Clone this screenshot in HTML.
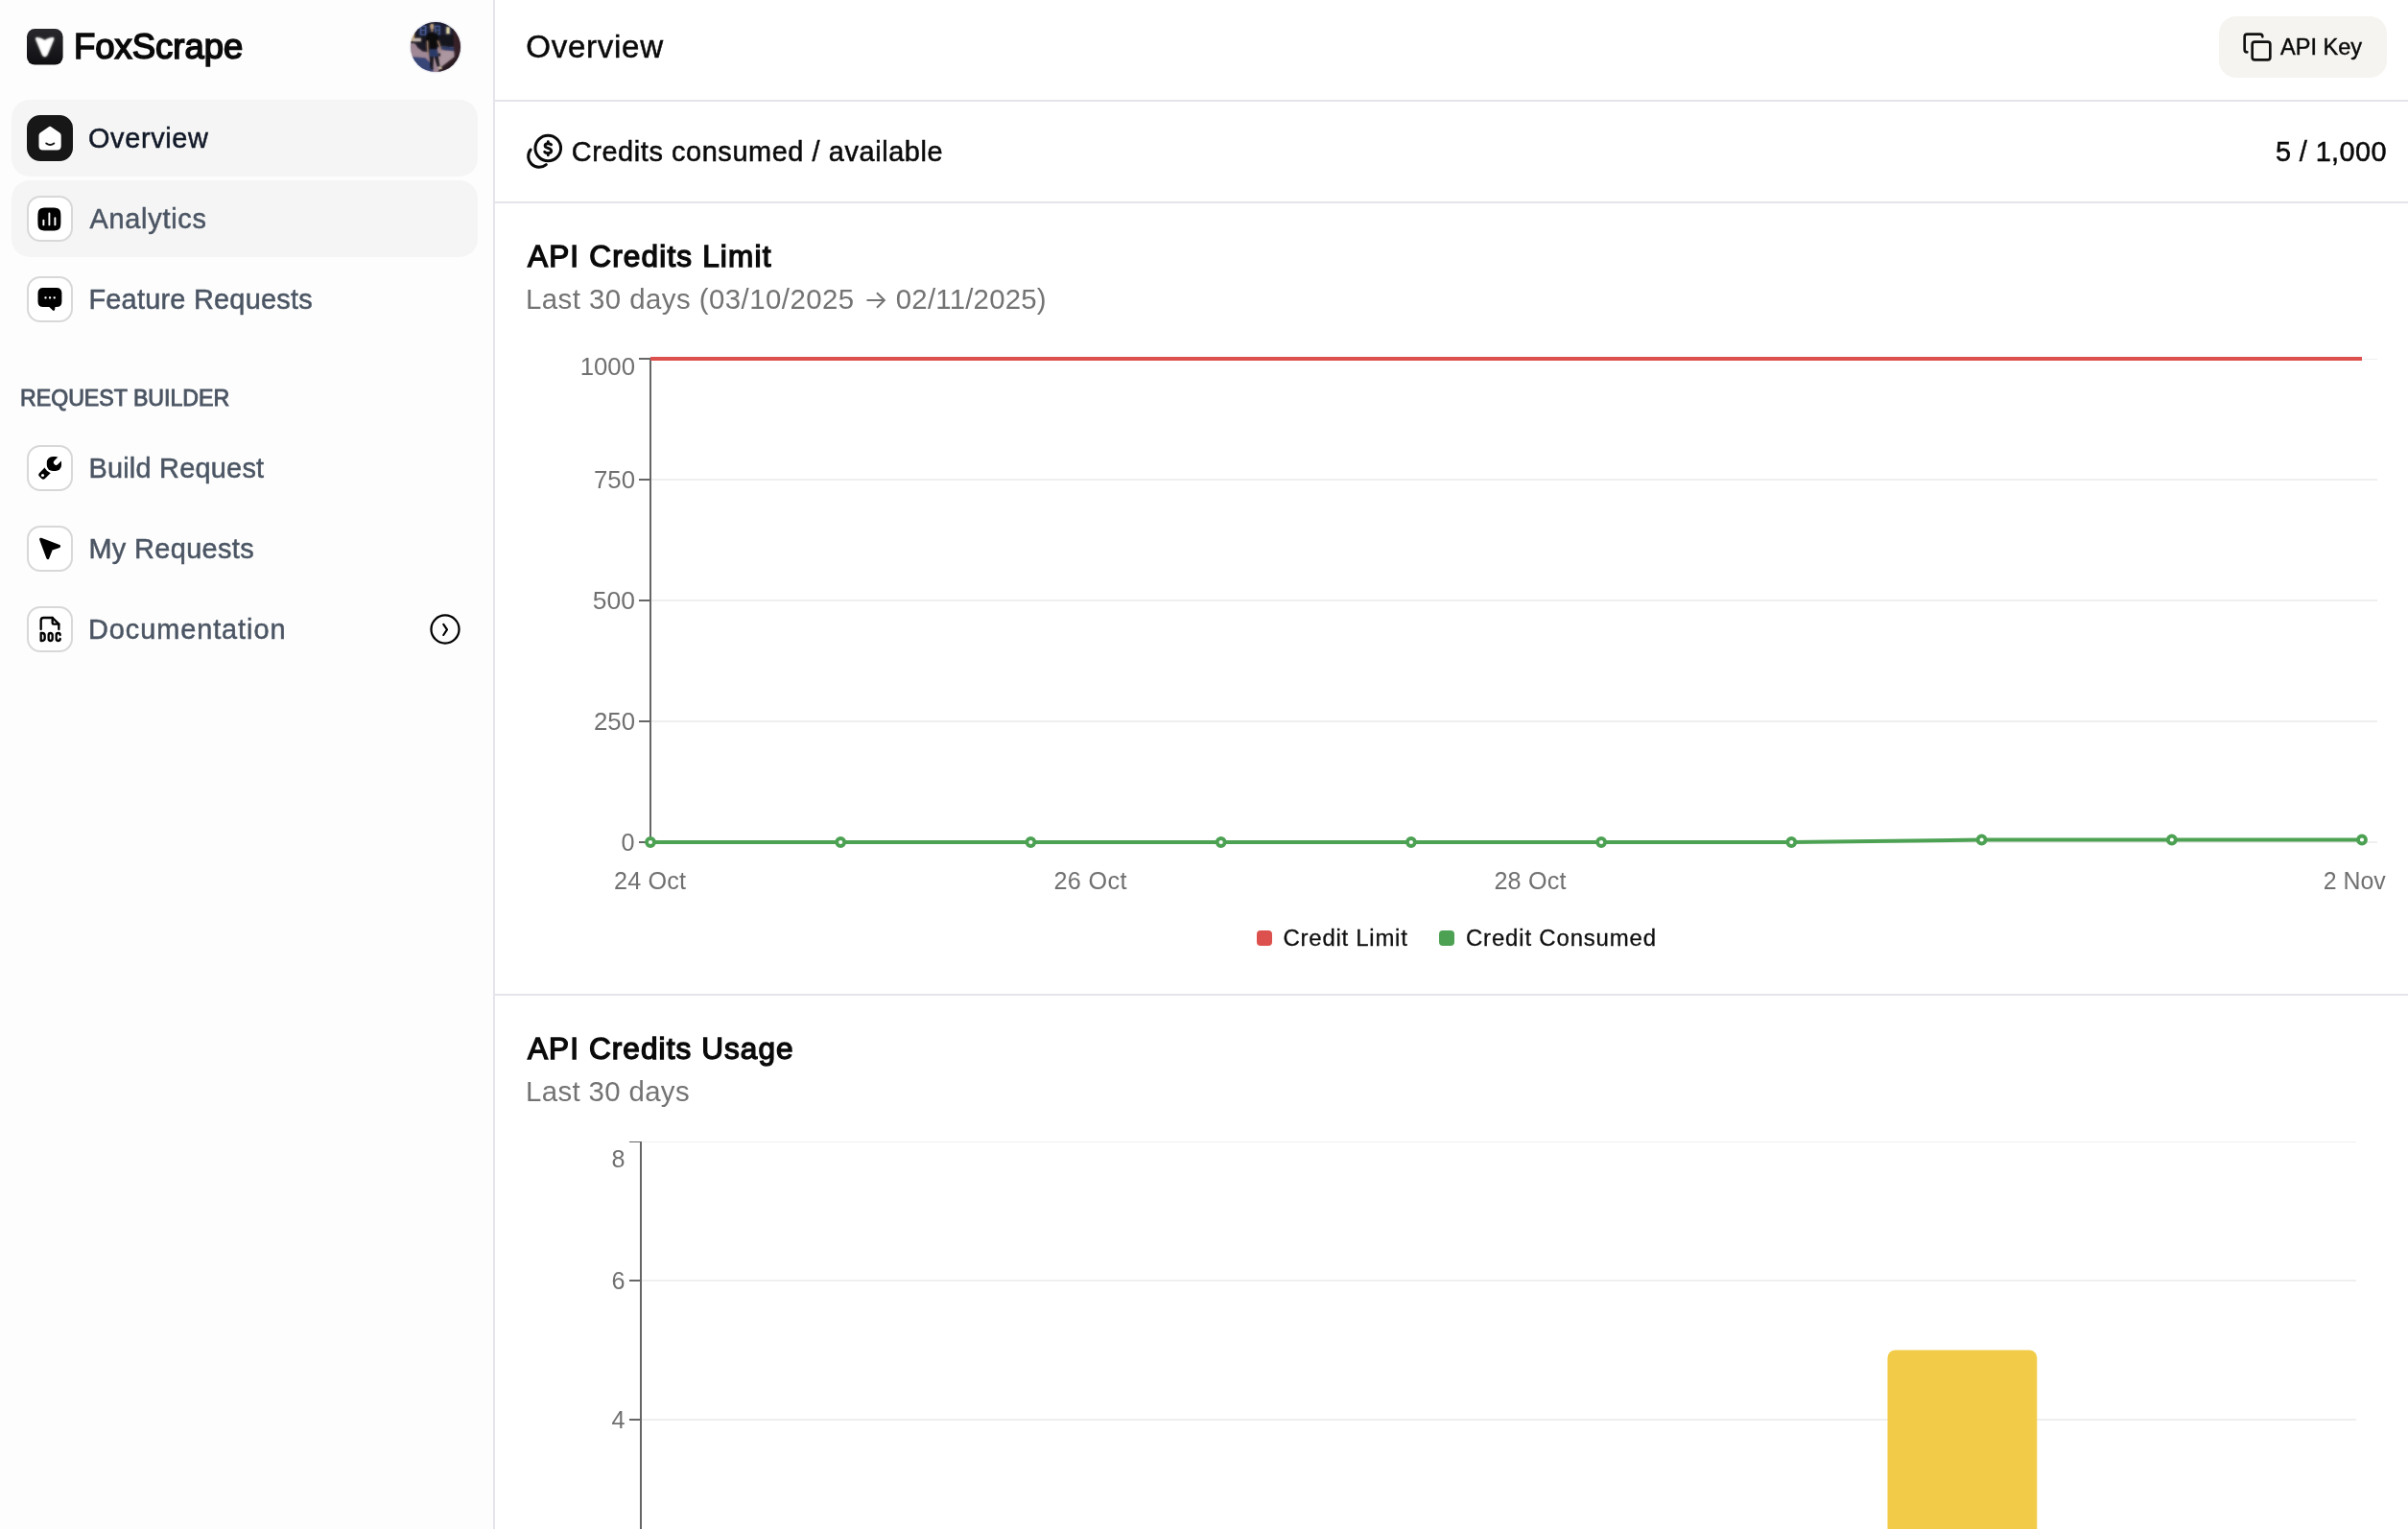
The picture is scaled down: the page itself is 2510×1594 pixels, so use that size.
<!DOCTYPE html>
<html lang="en">
<head>
<meta charset="utf-8">
<title>FoxScrape – Overview</title>
<style>
html,body{margin:0;padding:0;background:#fff}
body{width:2510px;height:1594px;position:relative;overflow:hidden;font-family:"Liberation Sans",sans-serif}
.abs{position:absolute}
.t{position:absolute;white-space:pre;line-height:1;font-family:"Liberation Sans",sans-serif}
#side{left:0;top:0;width:514px;height:1594px;background:#fdfdfd;border-right:2px solid #e4e4ea}
.navbg{left:12px;width:486px;height:80px;border-radius:19px;background:#f5f5f5}
.ib{left:28px;width:44px;height:44px;border-radius:14px;background:#fff;border:2px solid #d8d8d8}
.ib.on{background:#171717;border-color:#171717}
.hl{left:516px;width:1994px;height:2px;background:#e4e4ea}
#tx{position:absolute;left:0;top:0;width:2510px;height:1594px;will-change:transform}
#akb{left:2313px;top:17px;width:175px;height:64px;border-radius:18px;background:#f5f4f0}
svg{position:absolute;overflow:visible}
#logo{left:77.4px;top:31px;font-size:36.75px;font-weight:400;color:#0a0a0a;letter-spacing:0.000px;-webkit-text-stroke:1.6px #0a0a0a;transform:scaleX(0.9918);transform-origin:left center}
#n1{left:92.0px;top:130px;font-size:28.88px;font-weight:400;color:#111827;letter-spacing:0.646px;-webkit-text-stroke:0.5px #111827}
#n2{left:93.6px;top:214px;font-size:28.88px;font-weight:400;color:#4b5563;letter-spacing:0.714px;-webkit-text-stroke:0.5px #4b5563}
#n3{left:92.4px;top:298px;font-size:28.88px;font-weight:400;color:#4b5563;letter-spacing:0.253px;-webkit-text-stroke:0.5px #4b5563}
#sh{left:20.8px;top:403px;font-size:23.94px;font-weight:400;color:#4b5563;letter-spacing:0.000px;-webkit-text-stroke:0.9px #4b5563;transform:scaleX(0.9668);transform-origin:left center}
#n4{left:92.4px;top:474px;font-size:28.88px;font-weight:400;color:#4b5563;letter-spacing:0.243px;-webkit-text-stroke:0.5px #4b5563}
#n5{left:92.4px;top:558px;font-size:28.88px;font-weight:400;color:#4b5563;letter-spacing:0.378px;-webkit-text-stroke:0.5px #4b5563}
#n6{left:92.0px;top:642px;font-size:28.88px;font-weight:400;color:#4b5563;letter-spacing:0.940px;-webkit-text-stroke:0.5px #4b5563}
#ttl{left:548.2px;top:32px;font-size:33.08px;font-weight:400;color:#0a0a0a;letter-spacing:0.715px;-webkit-text-stroke:0.5px #0a0a0a}
#cr{left:595.8px;top:144px;font-size:28.88px;font-weight:400;color:#0a0a0a;letter-spacing:0.594px;-webkit-text-stroke:0.5px #0a0a0a}
#cv{left:2372.0px;top:144px;font-size:28.88px;font-weight:400;color:#0a0a0a;letter-spacing:0.384px;-webkit-text-stroke:0.5px #0a0a0a}
#ak{left:2377.0px;top:37px;font-size:24.78px;font-weight:400;color:#0a0a0a;letter-spacing:0.000px;-webkit-text-stroke:0.45px #0a0a0a;transform:scaleX(0.9500);transform-origin:left center}
#h1{left:550.0px;top:252px;font-size:31.5px;font-weight:400;color:#0a0a0a;letter-spacing:1.177px;-webkit-text-stroke:1.4px #0a0a0a}
#s1{left:548.0px;top:297px;font-size:29.4px;font-weight:400;color:#737373;letter-spacing:0.456px}
#s1b{left:933.8px;top:297px;font-size:29.4px;font-weight:400;color:#737373;letter-spacing:0.210px}
#y1000{left:606.0px;top:370px;font-size:25.2px;font-weight:400;color:#707070;letter-spacing:0.000px;transform:scaleX(1.0229);transform-origin:right center}
#y750{left:619.6px;top:488px;font-size:25.2px;font-weight:400;color:#707070;letter-spacing:0.000px;transform:scaleX(1.0255);transform-origin:right center}
#y500{left:619.6px;top:614px;font-size:25.2px;font-weight:400;color:#707070;letter-spacing:0.000px;transform:scaleX(1.0508);transform-origin:right center}
#y250{left:619.6px;top:740px;font-size:25.2px;font-weight:400;color:#707070;letter-spacing:0.000px;transform:scaleX(1.0255);transform-origin:right center}
#y0{left:647.6px;top:866px;font-size:25.2px;font-weight:400;color:#707070;letter-spacing:0.000px}
#x1{left:640.0px;top:906px;font-size:25.2px;font-weight:400;color:#707070;letter-spacing:0.159px}
#x2{left:1098.4px;top:906px;font-size:25.2px;font-weight:400;color:#707070;letter-spacing:0.399px}
#x3{left:1557.4px;top:906px;font-size:25.2px;font-weight:400;color:#707070;letter-spacing:0.199px}
#x4{left:2421.2px;top:906px;font-size:25.2px;font-weight:400;color:#707070;letter-spacing:0.000px;transform:scaleX(0.9879);transform-origin:right center}
#l1{left:1337.6px;top:966px;font-size:23.94px;font-weight:400;color:#0f0f0f;letter-spacing:0.741px;-webkit-text-stroke:0.3px #0f0f0f}
#l2{left:1528.0px;top:966px;font-size:23.94px;font-weight:400;color:#0f0f0f;letter-spacing:0.838px;-webkit-text-stroke:0.3px #0f0f0f}
#h2{left:550.0px;top:1078px;font-size:31.5px;font-weight:400;color:#0a0a0a;letter-spacing:1.093px;-webkit-text-stroke:1.4px #0a0a0a}
#s2{left:548.0px;top:1123px;font-size:29.4px;font-weight:400;color:#737373;letter-spacing:0.357px}
#b8{left:637.4px;top:1196px;font-size:25.2px;font-weight:400;color:#707070;letter-spacing:0.000px}
#b6{left:637.4px;top:1323px;font-size:25.2px;font-weight:400;color:#707070;letter-spacing:0.000px}
#b4{left:637.4px;top:1468px;font-size:25.2px;font-weight:400;color:#707070;letter-spacing:0.000px}
</style>
</head>
<body>
<!-- ============ SIDEBAR ============ -->
<div class="abs" id="side"></div>
<div class="abs navbg" style="top:104px"></div>
<div class="abs navbg" style="top:188px"></div>

<!-- logo -->
<svg style="left:28px;top:30px" width="38" height="38" viewBox="0 0 38 38">
  <defs>
    <linearGradient id="lg" x1="0" y1="0" x2="0" y2="1"><stop offset="0" stop-color="#28282d"/><stop offset="1" stop-color="#0f0f12"/></linearGradient>
    <filter id="lb" x="-20%" y="-20%" width="140%" height="140%"><feGaussianBlur stdDeviation="0.850"/></filter>
  </defs>
  <rect width="37.600" height="37.600" rx="8.300" fill="url(#lg)"/>
  <path d="M10.900 8.900 C13.500 9.200 16.500 10.500 18.700 11.900 C20.900 10.500 23.900 9.200 26.500 8.900 Q28.900 8.700 28.200 11 L21.300 27.600 Q18.700 31 16.100 27.600 L9.200 11 Q8.500 8.700 10.900 8.900 Z" fill="#fff" filter="url(#lb)"/>
  <path d="M10.900 8.900 C13.500 9.200 16.500 10.500 18.700 11.900 C20.900 10.500 23.900 9.200 26.500 8.900 Q28.900 8.700 28.200 11 L21.300 27.600 Q18.700 31 16.100 27.600 L9.200 11 Q8.500 8.700 10.900 8.900 Z" fill="#fff" opacity="0.500"/>
</svg>

<!-- avatar -->
<svg style="left:426px;top:21px" width="56" height="56" viewBox="0 0 56 56">
  <defs>
    <clipPath id="avc"><circle cx="28" cy="28" r="26"/></clipPath>
    <filter id="avb" x="-10%" y="-10%" width="120%" height="120%"><feGaussianBlur stdDeviation="0.850"/></filter>
  </defs>
  <circle cx="28" cy="28" r="27.400" fill="#eaeaf1"/>
  <g clip-path="url(#avc)">
    <g id="avg" filter="url(#avb)">
      <rect x="-4" y="-4" width="64" height="64" fill="#1e1f33"/>
      <rect x="-4" y="15.500" width="64" height="12" fill="#17161f"/>
      <!-- ground (lit pavement) -->
      <polygon points="-4,23.500 8,24.500 20,31 34,27.500 60,29 60,60 -4,60" fill="#a08896"/>
      <polygon points="30,33 47,31 47,44 34,50 30,50" fill="#ad969f"/>
      <!-- diagonal dark shadow left of figure -->
      <polygon points="6.100,23.800 21,23.800 21,33.500 14.600,32.800 9.400,28.700" fill="#1d1a26"/>
      <!-- mid shadow band right -->
      <polygon points="32.500,27.200 47.500,28.500 47.500,32.500 38,31.500 33,30.200" fill="#2f3c68"/>
      <!-- lower-left shadow -->
      <polygon points="2,38 17.300,39.200 24.600,46.600 26,54 12,54 3,42" fill="#384578"/>
      <!-- trunk right + dark lower-right -->
      <polygon points="46.500,8 56,8 56,50 48.500,50 47,30" fill="#38232a"/>
      <polygon points="33,49.500 49,37 56,36 56,58 28,58" fill="#2b1c22"/>
      <!-- windows -->
      <rect x="11.800" y="5.700" width="6.600" height="10" fill="#5068a6"/>
      <rect x="13.300" y="7" width="3.600" height="3" fill="#1b1f34"/><rect x="13.300" y="11" width="3.600" height="3.600" fill="#1b1f34"/>
      <rect x="27.200" y="5.700" width="5.500" height="9.500" fill="#4c64a2"/>
      <rect x="28.400" y="7" width="3.100" height="2.800" fill="#1b1f34"/><rect x="28.400" y="10.800" width="3.100" height="3.400" fill="#2a2a30"/>
      <rect x="38.700" y="6.700" width="4.600" height="8" fill="#3b3f58"/>
      <rect x="39.500" y="7.400" width="3" height="6.600" fill="#ece2b0"/>
      <!-- warm light + bench left -->
      <rect x="2" y="13" width="4" height="9" fill="#c2a168"/>
      <rect x="4" y="18.800" width="8.800" height="3.400" fill="#c3b5ae"/>
      <!-- figure -->
      <ellipse cx="24.300" cy="6.900" rx="2" ry="2.600" fill="#b89c84"/>
      <rect x="22.500" y="4.200" width="3.400" height="1.800" rx=".9" fill="#c6ad88"/>
      <rect x="23.400" y="9" width="2" height="3" fill="#a2846c"/>
      <path d="M18.300 14.600 Q24 10.600 30.300 14.400 L31.200 22.500 L29.900 30.600 L20.400 30.600 L18.300 22.500 Z" fill="#0c0c10"/>
      <path d="M18.700 21.500 L20.300 21.500 L20.800 35.500 Q20.400 37 19.400 36.200 Z" fill="#a3846f"/>
      <path d="M29.700 21.500 L31.300 21.300 L34.200 30.500 Q33.800 31.800 32.800 31 Z" fill="#a3846f"/>
      <path d="M20.900 30.300 L29.900 30.300 L31 38 L32.600 48.200 L29.600 48.400 L26.300 36.500 L25.600 49.800 L22.400 49.800 L21.600 38 Z" fill="#14141c"/>
      <path d="M21.200 30.600 L29.800 30.600 L30.800 38 L21.700 38 Z" fill="#2c3b68"/>
      <rect x="31" y="34.500" width="2.200" height="3.200" fill="#18181c"/>
      <ellipse cx="33" cy="50" rx="1.800" ry="1" fill="#d5c8a2"/>
      <ellipse cx="24.400" cy="50.600" rx="1.800" ry="1" fill="#1c1a22"/>
    </g>
    <g opacity="0.420">
      <rect x="-4" y="-4" width="64" height="64" fill="#1e1f33"/>
      <rect x="-4" y="15.500" width="64" height="12" fill="#17161f"/>
      <!-- ground (lit pavement) -->
      <polygon points="-4,23.500 8,24.500 20,31 34,27.500 60,29 60,60 -4,60" fill="#a08896"/>
      <polygon points="30,33 47,31 47,44 34,50 30,50" fill="#ad969f"/>
      <!-- diagonal dark shadow left of figure -->
      <polygon points="6.100,23.800 21,23.800 21,33.500 14.600,32.800 9.400,28.700" fill="#1d1a26"/>
      <!-- mid shadow band right -->
      <polygon points="32.500,27.200 47.500,28.500 47.500,32.500 38,31.500 33,30.200" fill="#2f3c68"/>
      <!-- lower-left shadow -->
      <polygon points="2,38 17.300,39.200 24.600,46.600 26,54 12,54 3,42" fill="#384578"/>
      <!-- trunk right + dark lower-right -->
      <polygon points="46.500,8 56,8 56,50 48.500,50 47,30" fill="#38232a"/>
      <polygon points="33,49.500 49,37 56,36 56,58 28,58" fill="#2b1c22"/>
      <!-- windows -->
      <rect x="11.800" y="5.700" width="6.600" height="10" fill="#5068a6"/>
      <rect x="13.300" y="7" width="3.600" height="3" fill="#1b1f34"/><rect x="13.300" y="11" width="3.600" height="3.600" fill="#1b1f34"/>
      <rect x="27.200" y="5.700" width="5.500" height="9.500" fill="#4c64a2"/>
      <rect x="28.400" y="7" width="3.100" height="2.800" fill="#1b1f34"/><rect x="28.400" y="10.800" width="3.100" height="3.400" fill="#2a2a30"/>
      <rect x="38.700" y="6.700" width="4.600" height="8" fill="#3b3f58"/>
      <rect x="39.500" y="7.400" width="3" height="6.600" fill="#ece2b0"/>
      <!-- warm light + bench left -->
      <rect x="2" y="13" width="4" height="9" fill="#c2a168"/>
      <rect x="4" y="18.800" width="8.800" height="3.400" fill="#c3b5ae"/>
      <!-- figure -->
      <ellipse cx="24.300" cy="6.900" rx="2" ry="2.600" fill="#b89c84"/>
      <rect x="22.500" y="4.200" width="3.400" height="1.800" rx=".9" fill="#c6ad88"/>
      <rect x="23.400" y="9" width="2" height="3" fill="#a2846c"/>
      <path d="M18.300 14.600 Q24 10.600 30.300 14.400 L31.200 22.500 L29.900 30.600 L20.400 30.600 L18.300 22.500 Z" fill="#0c0c10"/>
      <path d="M18.700 21.500 L20.300 21.500 L20.800 35.500 Q20.400 37 19.400 36.200 Z" fill="#a3846f"/>
      <path d="M29.700 21.500 L31.300 21.300 L34.200 30.500 Q33.800 31.800 32.800 31 Z" fill="#a3846f"/>
      <path d="M20.900 30.300 L29.900 30.300 L31 38 L32.600 48.200 L29.600 48.400 L26.300 36.500 L25.600 49.800 L22.400 49.800 L21.600 38 Z" fill="#14141c"/>
      <path d="M21.200 30.600 L29.800 30.600 L30.800 38 L21.700 38 Z" fill="#2c3b68"/>
      <rect x="31" y="34.500" width="2.200" height="3.200" fill="#18181c"/>
      <ellipse cx="33" cy="50" rx="1.800" ry="1" fill="#d5c8a2"/>
      <ellipse cx="24.400" cy="50.600" rx="1.800" ry="1" fill="#1c1a22"/>
    </g>
  </g>
</svg>

<!-- nav icon boxes -->
<div class="abs ib on" style="top:120px"></div>
<div class="abs ib" style="top:204px"></div>
<div class="abs ib" style="top:288px"></div>
<div class="abs ib" style="top:464px"></div>
<div class="abs ib" style="top:548px"></div>
<div class="abs ib" style="top:632px"></div>

<!-- home icon (active) -->
<svg style="left:34px;top:126px" width="36" height="36" viewBox="0 0 36 36">
  <path fill="#fff" d="M16.500 6.400 Q18.100 5.100 19.700 6.400 L28.400 12.600 Q29.700 13.600 29.700 15.300 V26.200 Q29.700 30.400 25.500 30.400 H10.700 Q6.500 30.400 6.500 26.200 V15.300 Q6.500 13.600 7.800 12.600 Z"/>
  <path fill="none" stroke="#171717" stroke-width="2.100" stroke-linecap="round" d="M14.300 23.500 Q18.250 26.500 22.200 23.500"/>
</svg>

<!-- analytics icon -->
<svg style="left:37.300px;top:213.600px" width="28.800" height="28.800" viewBox="0 0 24 24">
  <path fill="#000" d="M3.460 3.460C2 4.930 2 7.290 2 12s0 7.070 1.460 8.540C4.930 22 7.290 22 12 22s7.070 0 8.540-1.460C22 19.070 22 16.710 22 12s0-7.070-1.460-8.540C19.070 2 16.710 2 12 2S4.930 2 3.460 3.460Z"/>
  <path fill="none" stroke="#fff" stroke-width="1.600" stroke-linecap="round" d="M7 13V17M12 7V17M17 11V17"/>
</svg>

<!-- feature requests (chat) icon -->
<svg style="left:34px;top:294px" width="36" height="36" viewBox="0 0 36 36">
  <path fill="#000" d="M11.200 6 H24.800 Q30.400 6 30.400 11.600 V20.500 Q30.400 26.100 24.800 26.100 H23.500 L23.100 28.900 Q22.300 30.700 20.700 29.300 L17.300 26.100 H11.200 Q5.500 26.100 5.500 20.500 V11.600 Q5.500 6 11.200 6 Z"/>
  <rect x="12.400" y="15.200" width="2.200" height="2.200" rx=".7" fill="#fff"/><rect x="16.950" y="15.200" width="2.200" height="2.200" rx=".7" fill="#fff"/><rect x="21.600" y="15.200" width="2.200" height="2.200" rx=".7" fill="#fff"/>
</svg>

<!-- wrench icon -->
<svg style="left:34px;top:470px" width="36" height="36" viewBox="34 470 36 36">
  <g transform="translate(44.500 495.500) rotate(-45)"><rect x="-3.300" y="-4.200" width="17" height="8.400" rx="2.800" fill="#000"/></g>
  <circle cx="56.400" cy="483.400" r="10.500" fill="#fff"/>
  <rect x="48.800" y="475.900" width="15.200" height="15.200" rx="6.200" fill="#000"/>
  <path d="M58.500 482.200 L67 473.700" stroke="#fff" stroke-width="5.300" stroke-linecap="round" fill="none"/>
  <circle cx="44.500" cy="495.500" r="1.550" fill="#fff"/>
</svg>

<!-- cursor icon -->
<svg style="left:40px;top:560px" width="24" height="24" viewBox="0 0 24 24">
  <path d="M2.600 2.200 L21.600 9.500 L13.400 12.400 L9.800 21.600 Z" fill="#000" stroke="#000" stroke-width="3" stroke-linejoin="round"/>
</svg>

<!-- doc icon (tabler file-type-doc) -->
<svg style="left:36px;top:640px" width="32" height="32" viewBox="0 0 24 24" fill="none" stroke="#000" stroke-width="1.750" stroke-linecap="round" stroke-linejoin="round">
  <path d="M14 3v4a1 1 0 0 0 1 1h4"/>
  <path d="M5 12V5a2 2 0 0 1 2-2h7l5 5v4"/>
  <path d="M5 15v6h1a2 2 0 0 0 2-2v-2a2 2 0 0 0-2-2H5z"/>
  <path d="M20 16.500a1.500 1.500 0 0 0-3 0v3a1.500 1.500 0 0 0 3 0"/>
  <path d="M12.500 15a1.500 1.500 0 0 1 1.500 1.500v3a1.500 1.500 0 0 1-3 0v-3a1.500 1.500 0 0 1 1.500-1.500z"/>
</svg>

<!-- chevron circle -->
<svg style="left:448px;top:640px" width="32" height="32" viewBox="0 0 24 24" fill="none" stroke="#000" stroke-width="1.700" stroke-linecap="round" stroke-linejoin="round">
  <circle cx="12" cy="12" r="10.900"/><path d="M10.700 8.100 L13.500 12.300 L10.700 16.500" stroke-width="1.600"/>
</svg>

<!-- ============ MAIN ============ -->
<div class="abs hl" style="top:104px"></div>
<div class="abs hl" style="top:210px"></div>
<div class="abs hl" style="top:1036px"></div>

<!-- API key button -->
<div class="abs" id="akb"></div>
<svg style="left:2337px;top:33px" width="32" height="32" viewBox="0 0 24 24" fill="none" stroke="#111" stroke-width="2" stroke-linecap="round" stroke-linejoin="round">
  <rect width="14" height="14" x="8" y="8" rx="2" ry="2"/><path d="M4 16c-1.100 0-2-.9-2-2V4c0-1.100.9-2 2-2h10c1.100 0 2 .9 2 2"/>
</svg>

<!-- credits icon -->
<svg style="left:546px;top:136px" width="44" height="44" viewBox="0 0 44 44" fill="none" stroke="#0a0a0a" stroke-width="3" stroke-linecap="round" stroke-linejoin="round">
  <circle cx="25.250" cy="18.500" r="13.300"/>
  <path d="M7.100 20 A11.300 11.300 0 0 0 23.300 35.600"/>
  <path d="M28.600 14.800 C27.600 13.400 22.100 13 22.100 15.900 C22.100 18.900 28.700 17.900 28.700 21.300 C28.700 24.300 23 24.100 21.700 22.300" stroke-width="2.900"/>
  <path d="M25.300 11.700 V13.300 M25.300 24 V25.700" stroke-width="2.900"/>
</svg>

<!-- arrow in subtitle -->
<svg style="left:902px;top:303px" width="22" height="20" viewBox="0 0 22 20" fill="none" stroke="#737373" stroke-width="2.100" stroke-linecap="butt" stroke-linejoin="miter">
  <path d="M1.500 10 H19.500 M12 2.300 L19.800 10 L12 17.700"/>
</svg>

<!-- ============ CHARTS ============ -->
<svg style="left:0;top:0" width="2510" height="1594" viewBox="0 0 2510 1594">
  <!-- chart 1 grid -->
  <g stroke="#efefef" stroke-width="2">
    <line x1="678" y1="374.500" x2="2478" y2="374.500" stroke-width="1"/>
    <line x1="678" y1="500" x2="2478" y2="500"/>
    <line x1="678" y1="626" x2="2478" y2="626"/>
    <line x1="678" y1="752" x2="2478" y2="752"/>
    <line x1="678" y1="878" x2="2478" y2="878"/>
  </g>
  <g stroke="#666" stroke-width="2">
    <line x1="678" y1="373" x2="678" y2="879"/>
    <line x1="666" y1="374" x2="678" y2="374"/>
    <line x1="666" y1="500" x2="678" y2="500"/>
    <line x1="666" y1="626" x2="678" y2="626"/>
    <line x1="666" y1="752" x2="678" y2="752"/>
    <line x1="666" y1="878" x2="678" y2="878"/>
  </g>
  <line x1="678" y1="374" x2="2462" y2="374" stroke="#dc514d" stroke-width="4"/>
  <polyline points="678,878 876.200,878 1074.400,878 1272.700,878 1470.900,878 1669.100,878 1867.300,878 2065.600,875.500 2263.800,875.500 2462,875.500" fill="none" stroke="#4ca153" stroke-width="4" stroke-linejoin="round"/>
  <g fill="#fff" stroke="#4ca153" stroke-width="3.800">
    <circle cx="678" cy="878" r="4"/><circle cx="876.200" cy="878" r="4"/><circle cx="1074.400" cy="878" r="4"/>
    <circle cx="1272.700" cy="878" r="4"/><circle cx="1470.900" cy="878" r="4"/><circle cx="1669.100" cy="878" r="4"/>
    <circle cx="1867.300" cy="878" r="4"/><circle cx="2065.600" cy="875.500" r="4"/><circle cx="2263.800" cy="875.500" r="4"/>
    <circle cx="2462" cy="875.500" r="4"/>
  </g>
  <!-- legend -->
  <rect x="1310" y="970" width="16" height="16" rx="4" fill="#dc514d"/>
  <rect x="1500" y="970" width="16" height="16" rx="4" fill="#4ca153"/>

  <!-- chart 2 -->
  <g stroke="#efefef" stroke-width="2">
    <line x1="668" y1="1190.500" x2="2456" y2="1190.500" stroke-width="1"/>
    <line x1="668" y1="1335" x2="2456" y2="1335"/>
    <line x1="668" y1="1480" x2="2456" y2="1480"/>
  </g>
  <g stroke="#666" stroke-width="2">
    <line x1="668" y1="1190" x2="668" y2="1594"/>
    <line x1="656" y1="1190.500" x2="668" y2="1190.500" stroke-width="1"/>
    <line x1="656" y1="1335" x2="668" y2="1335"/>
    <line x1="656" y1="1480" x2="668" y2="1480"/>
  </g>
  <path d="M1967.500 1594 V1415.500 a8 8 0 0 1 8-8 H2115.300 a8 8 0 0 1 8 8 V1594 Z" fill="#f2cc48"/>
</svg>

<!-- ============ TEXT ============ -->
<div id="tx">
<div class="t" id="logo">FoxScrape</div>
<div class="t" id="n1">Overview</div>
<div class="t" id="n2">Analytics</div>
<div class="t" id="n3">Feature Requests</div>
<div class="t" id="sh">REQUEST BUILDER</div>
<div class="t" id="n4">Build Request</div>
<div class="t" id="n5">My Requests</div>
<div class="t" id="n6">Documentation</div>
<div class="t" id="ttl">Overview</div>
<div class="t" id="cr">Credits consumed / available</div>
<div class="t" id="cv">5 / 1,000</div>
<div class="t" id="ak">API Key</div>
<div class="t" id="h1">API Credits Limit</div>
<div class="t" id="s1">Last 30 days (03/10/2025</div>
<div class="t" id="s1b">02/11/2025)</div>
<div class="t" id="y1000">1000</div>
<div class="t" id="y750">750</div>
<div class="t" id="y500">500</div>
<div class="t" id="y250">250</div>
<div class="t" id="y0">0</div>
<div class="t" id="x1">24 Oct</div>
<div class="t" id="x2">26 Oct</div>
<div class="t" id="x3">28 Oct</div>
<div class="t" id="x4">2 Nov</div>
<div class="t" id="l1">Credit Limit</div>
<div class="t" id="l2">Credit Consumed</div>
<div class="t" id="h2">API Credits Usage</div>
<div class="t" id="s2">Last 30 days</div>
<div class="t" id="b8">8</div>
<div class="t" id="b6">6</div>
<div class="t" id="b4">4</div>
</div>
</body>
</html>
